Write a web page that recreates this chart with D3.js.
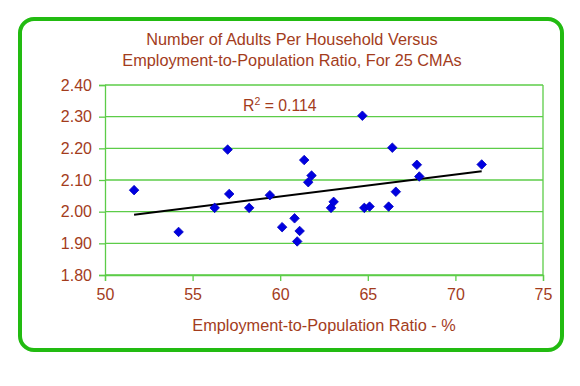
<!DOCTYPE html>
<html><head><meta charset="utf-8">
<script src="https://cdn.jsdelivr.net/npm/d3@7"></script>
<style>html,body{margin:0;padding:0;background:#fff;}svg{display:block;}</style>
</head><body>
<svg id="c" width="580" height="386"></svg>
<script>
const empRatio = [51.66,54.2,56.26,57.0,57.09,58.23,59.41,60.11,60.82,60.97,61.11,61.37,61.6,61.79,62.9,63.05,64.69,64.8,65.1,66.19,66.4,66.6,67.8,67.94,71.5];
const adults  = [2.068,1.936,2.012,2.196,2.056,2.012,2.052,1.951,1.979,1.906,1.939,2.163,2.093,2.114,2.012,2.031,2.303,2.012,2.016,2.016,2.202,2.063,2.148,2.111,2.149];
const xTicks = [50,55,60,65,70,75];
const yTicks = [1.8,1.9,2.0,2.1,2.2,2.3,2.4];
const titleLines = ["Number of Adults Per Household Versus","Employment-to-Population Ratio, For 25 CMAs"];
const xTitle = "Employment-to-Population Ratio - %";
const r2Text = "0.114";

const svg = d3.select("#c");
const txt = "#a33c1c", grid = "#5ccc48", frame = "#22bb11";
const font = "'Liberation Sans', Arial, sans-serif";

svg.append("rect").attr("x",20).attr("y",19).attr("width",542).attr("height",331)
  .attr("rx",14).attr("ry",14).attr("fill","#fff").attr("stroke",frame).attr("stroke-width",4);

const x = d3.scaleLinear().domain([50,75]).range([105,543]);
const y = d3.scaleLinear().domain([1.8,2.4]).range([275,85]);

svg.append("g").selectAll("line").data(yTicks).join("line")
  .attr("x1",x(50)).attr("x2",x(75)).attr("y1",d=>y(d)).attr("y2",d=>y(d))
  .attr("stroke",grid).attr("stroke-width",1.3);
svg.append("line").attr("x1",x(75)).attr("x2",x(75)).attr("y1",y(2.4)).attr("y2",y(1.8)).attr("stroke",grid).attr("stroke-width",1.3);

const xa = svg.append("g").attr("transform",`translate(0,${y(1.8)})`)
  .call(d3.axisBottom(x).tickValues(xTicks).tickSize(6).tickPadding(8).tickFormat(d3.format("d")));
const ya = svg.append("g").attr("transform",`translate(${x(50)},0)`)
  .call(d3.axisLeft(y).tickValues(yTicks).tickSize(6).tickPadding(7).tickFormat(d3.format(".2f")));
[xa,ya].forEach(a=>{
  a.select(".domain").attr("stroke",grid).attr("stroke-width",1.3);
  a.selectAll(".tick line").attr("stroke",grid).attr("stroke-width",1.3);
  a.selectAll("text").attr("fill",txt).style("font-family",font).style("font-size","16px");
});

const n = empRatio.length;
const mx = d3.mean(empRatio), my = d3.mean(adults);
let sxy=0,sxx=0;
for(let i=0;i<n;i++){sxy+=(empRatio[i]-mx)*(adults[i]-my);sxx+=(empRatio[i]-mx)**2;}
const b = sxy/sxx, a0 = my-b*mx;
const [xmin,xmax] = d3.extent(empRatio);
svg.append("line").attr("x1",x(xmin)).attr("y1",y(a0+b*xmin)).attr("x2",x(xmax)).attr("y2",y(a0+b*xmax))
  .attr("stroke","#000").attr("stroke-width",2);

const sym = d3.symbol().type(d3.symbolDiamond2).size(58);
svg.append("g").selectAll("path").data(empRatio).join("path")
  .attr("transform",(d,i)=>`translate(${x(d)},${y(adults[i])})`)
  .attr("d",sym).attr("fill","#0000e0").attr("stroke","#0000c0").attr("stroke-width",0.8);

svg.append("g").selectAll("text").data(titleLines).join("text")
  .attr("x",292).attr("y",(d,i)=>45+i*21).attr("text-anchor","middle")
  .attr("fill",txt).style("font-family",font).style("font-size","16.3px").text(d=>d);
svg.append("text").attr("x",324).attr("y",331).attr("text-anchor","middle")
  .attr("fill",txt).style("font-family",font).style("font-size","16.3px").text(xTitle);
const r = svg.append("text").attr("x",243).attr("y",111).attr("fill",txt).style("font-family",font).style("font-size","15.8px");
r.append("tspan").text("R");
r.append("tspan").attr("dy",-6).style("font-size","10.5px").text("2");
r.append("tspan").attr("dy",6).text(" = " + r2Text);
</script>
</body></html>
